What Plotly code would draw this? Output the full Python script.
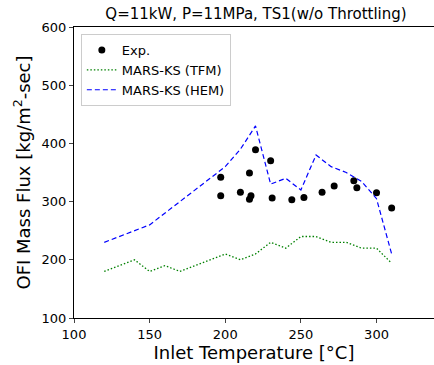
import plotly.graph_objects as go

exp_x = [197, 197, 210, 216, 216, 217, 220, 230, 231, 244, 252, 264, 272, 285, 287, 300, 310]
exp_y = [342, 310, 316, 349, 304, 310, 389, 370, 306, 303, 307, 316, 327, 336, 324, 315, 289]

tfm_x = [120, 140, 150, 160, 170, 200, 210, 220, 230, 240, 250, 260, 270, 280, 290, 300, 310]
tfm_y = [180, 200, 180, 190, 180, 210, 200, 210, 230, 220, 240, 240, 230, 230, 220, 220, 194]

hem_x = [120, 150, 200, 210, 220, 230, 240, 250, 260, 270, 280, 290, 300, 310]
hem_y = [230, 260, 360, 390, 430, 330, 340, 320, 380, 360, 350, 335, 305, 210]

fig = go.Figure()
fig.add_trace(go.Scatter(x=exp_x, y=exp_y, mode="markers", name="Exp.",
                         marker=dict(color="black", size=7)))
fig.add_trace(go.Scatter(x=tfm_x, y=tfm_y, mode="lines", name="MARS-KS (TFM)",
                         line=dict(color="#008000", dash="1.5px,2px", width=1.3)))
fig.add_trace(go.Scatter(x=hem_x, y=hem_y, mode="lines", name="MARS-KS (HEM)",
                         line=dict(color="#0000ff", dash="5px,3px", width=1.2)))

font = "DejaVu Sans"
fig.update_layout(
    width=434, height=365,
    margin=dict(l=74, r=0, t=27, b=47, autoexpand=False),
    paper_bgcolor="white", plot_bgcolor="white",
    font=dict(family=font, color="black", size=13),
    title=dict(text="Q=11kW, P=11MPa, TS1(w/o Throttling)", x=256 / 434, xanchor="center",
               xref="container", y=1 - 14 / 365, yanchor="middle", yref="container",
               font=dict(size=15)),
    showlegend=True,
    legend=dict(x=0.019, y=0.976, xanchor="left", yanchor="top",
                bgcolor="white", bordercolor="#cccccc", borderwidth=1,
                font=dict(size=13), tracegroupgap=0),
    xaxis=dict(range=[100, 338], tickvals=[100, 150, 200, 250, 300],
               showgrid=False, zeroline=False, showline=True, linecolor="black",
               linewidth=1, mirror=True, ticks="outside", ticklen=4,
               tickfont=dict(size=13), automargin=False,
               title=dict(text="Inlet Temperature [°C]", font=dict(size=18), standoff=4)),
    yaxis=dict(range=[100, 600], tickvals=[100, 200, 300, 400, 500, 600],
               showgrid=False, zeroline=False, showline=True, linecolor="black",
               linewidth=1, mirror=True, ticks="outside", ticklen=4,
               tickfont=dict(size=13), automargin=False,
               title=dict(text="OFI Mass Flux [kg/m<sup>2</sup>-sec]", font=dict(size=18), standoff=6)),
)
fig.write_html("out.html", config={"displayModeBar": False},
               post_script="document.body.style.margin='0';document.body.style.overflow='hidden';")
